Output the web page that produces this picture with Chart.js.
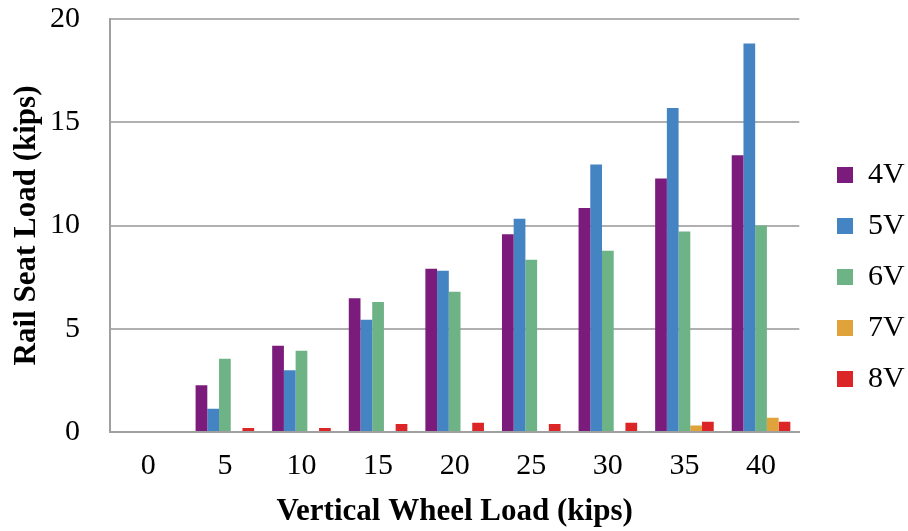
<!DOCTYPE html>
<html>
<head>
<meta charset="utf-8">
<script src="https://cdn.jsdelivr.net/npm/chart.js@4/dist/chart.umd.min.js"></script>
<style>
  html, body { margin: 0; padding: 0; background: #fff; }
  #wrap { width: 908px; height: 531px; }
</style>
</head>
<body>
<div id="wrap"><canvas id="c" width="908" height="531"></canvas></div>
<script>
// Vertical wheel load categories (kips)
const wheelLoads = ['0', '5', '10', '15', '20', '25', '30', '35', '40'];

// Rail seat load (kips) measured at each rail seat
const seriesNames = ['4V', '5V', '6V', '7V', '8V'];
const load4V = [0, 2.26, 4.18, 6.48, 7.90, 9.58, 10.85, 12.27, 13.40];
const load5V = [0, 1.13, 2.99, 5.43, 7.81, 10.33, 12.95, 15.69, 18.81];
const load6V = [0, 3.55, 3.93, 6.29, 6.79, 8.34, 8.78, 9.71, 10.00];
const load7V = [0, 0, 0, 0, 0, 0, 0, 0.32, 0.69];
const load8V = [0, 0.19, 0.19, 0.39, 0.45, 0.39, 0.45, 0.50, 0.50];

const yTicks = [0, 5, 10, 15, 20];

const seriesColors = ['#7B1C7D', '#4584C3', '#6DB386', '#E0A23A', '#DC2526'];
const seriesData = [load4V, load5V, load6V, load7V, load8V];

const SERIF = '"Liberation Serif", "Times New Roman", serif';

// Nudges the right-hand legend so its swatches sit clear of the plot
const legendShift = {
  id: 'legendShift',
  afterLayout(chart) {
    const lg = chart.legend;
    if (!lg) return;
    const dx = 816 - lg.left;
    lg.left += dx;
    lg.right += dx;
    lg.top += 2;
    lg.bottom += 2;
  }
};

new Chart(document.getElementById('c'), {
  type: 'bar',
  data: {
    labels: wheelLoads,
    datasets: seriesNames.map((name, i) => ({
      label: name,
      data: seriesData[i],
      backgroundColor: seriesColors[i],
      borderWidth: 0,
      categoryPercentage: 0.765,
      barPercentage: 1.0
    }))
  },
  options: {
    responsive: false,
    animation: false,
    devicePixelRatio: 1,
    layout: { padding: { top: 19, right: 10, bottom: 0, left: 0 } },
    plugins: {
      tooltip: { enabled: false },
      legend: {
        position: 'right',
        labels: {
          color: '#000',
          font: { family: SERIF, size: 30 },
          boxWidth: 16,
          boxHeight: 16,
          padding: 21
        }
      }
    },
    scales: {
      x: {
        grid: { display: false, drawTicks: false },
        border: { display: true, color: '#a0a0a0', width: 2 },
        ticks: {
          color: '#000',
          font: { family: SERIF, size: 30 },
          padding: 16,
          maxRotation: 0
        },
        title: {
          display: true,
          text: 'Vertical Wheel Load (kips)',
          color: '#000',
          font: { family: SERIF, size: 31, weight: 'bold' },
          padding: { top: 0, bottom: 0 }
        },
        afterFit(scale) {
          scale.height = 99;
          scale.paddingLeft = 0;
          scale.paddingRight = 0;
        }
      },
      y: {
        min: 0,
        max: 20,
        afterBuildTicks(scale) { scale.ticks = yTicks.map(v => ({ value: v })); },
        grid: { color: '#b0b0b0', lineWidth: 2, drawTicks: false },
        border: { display: true, color: '#a0a0a0', width: 2 },
        ticks: {
          color: '#000',
          font: { family: SERIF, size: 30 },
          padding: 30
        },
        title: {
          display: true,
          text: 'Rail Seat Load (kips)',
          color: '#000',
          font: { family: SERIF, size: 31, weight: 'bold' },
          padding: { top: 8, bottom: 0 }
        },
        afterFit(scale) {
          scale.width = 110;
          scale.paddingTop = 0;
          scale.paddingBottom = 0;
        }
      }
    }
  },
  plugins: [legendShift]
});
</script>
</body>
</html>
